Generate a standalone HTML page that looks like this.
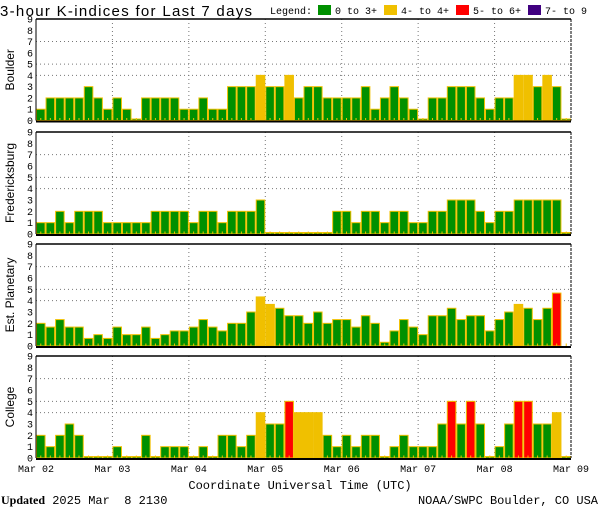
<!DOCTYPE html>
<html><head><meta charset="utf-8"><style>
body{margin:0;background:#fff;width:600px;height:510px;overflow:hidden}
svg{display:block;font-family:"Liberation Mono",monospace}
</style></head><body>
<svg id="chart" width="600" height="510">
<text x="0" y="16" font-size="15" font-family="Liberation Sans, sans-serif" textLength="252">3-hour K-indices for Last 7 days</text>
<g font-size="10">
<text x="270" y="14">Legend:</text>
<rect x="318" y="5" width="13" height="10" fill="#009000"/>
<text x="335" y="14">0 to 3+</text>
<rect x="384" y="5" width="13" height="10" fill="#f0c000"/>
<text x="401" y="14">4- to 4+</text>
<rect x="456" y="5" width="13" height="10" fill="#ff0000"/>
<text x="473" y="14">5- to 6+</text>
<rect x="528" y="5" width="13" height="10" fill="#400080"/>
<text x="545" y="14">7- to 9</text>
</g>
<text x="300" y="489" font-size="12" text-anchor="middle">Coordinate Universal Time (UTC)</text>
<text x="1" y="504" font-size="12" xml:space="preserve"><tspan font-weight="bold" font-family="Liberation Serif, serif">Updated</tspan> 2025 Mar  8 2130</text>
<text x="598" y="504" font-size="12" text-anchor="end">NOAA/SWPC Boulder, CO USA</text>
</svg>
<script>
const dayLabels=["Mar 02","Mar 03","Mar 04","Mar 05","Mar 06","Mar 07","Mar 08","Mar 09"];
const stations=["Boulder","Fredericksburg","Est. Planetary","College"];
const boulder=[1,2,2,2,2,3,2,1,2,1,0,2,2,2,2,1,1,2,1,1,3,3,3,4,3,3,4,2,3,3,2,2,2,2,3,1,2,3,2,1,0,2,2,3,3,3,2,1,2,2,4,4,3,4,3,0];
const fredericksburg=[1,1,2,1,2,2,2,1,1,1,1,1,2,2,2,2,1,2,2,1,2,2,2,3,0,0,0,0,0,0,0,2,2,1,2,2,1,2,2,1,1,2,2,3,3,3,2,1,2,2,3,3,3,3,3,0];
const planetary=[2,1.67,2.33,1.67,1.67,0.67,1,0.67,1.67,1,1,1.67,0.67,1,1.33,1.33,1.67,2.33,1.67,1.33,2,2,3,4.33,3.67,3.33,2.67,2.67,2,3,2,2.33,2.33,1.67,2.67,2,0.33,1.33,2.33,1.67,1,2.67,2.67,3.33,2.33,2.67,2.67,1.33,2.33,3,3.67,3.33,2.33,3.33,4.67,null];
const college=[2,1,2,3,2,0,0,0,1,0,0,2,0,1,1,1,0,1,0,2,2,1,2,4,3,3,5,4,4,4,2,1,2,1,2,2,0,1,2,1,1,1,3,5,3,5,3,0,1,3,5,5,3,3,4,0];
const yTicks=[0,1,2,3,4,5,6,7,8,9];
const gridLevels=[4,5,7];
const series=[boulder,fredericksburg,planetary,college];

const svg=document.getElementById('chart');
const NS='http://www.w3.org/2000/svg';
const X0=36,X1=571,N=56;
const panels=[{top:19,zero:120.5},{top:132,zero:234},{top:244,zero:346},{top:356,zero:458}];
function xScale(i){return X0+i*(X1-X0)/N;}
function mk(tag,attrs,parent){const e=document.createElementNS(NS,tag);for(const k in attrs)e.setAttribute(k,attrs[k]);(parent||svg).appendChild(e);return e;}
function color(v){return v<3.5?'#009000':v<4.5?'#f0c000':v<6.5?'#ff0000':'#400080';}

panels.forEach((p,pi)=>{
  const yScale=v=>p.zero-v*(p.zero-p.top)/9;
  const g=mk('g',{});
  
  
  gridLevels.forEach(l=>{const ln=mk('line',{x1:X0,x2:X1,y1:yScale(l),y2:yScale(l),stroke:'#777','stroke-dasharray':'1,3'},g);
    });
  for(let d=1;d<7;d++){const x=xScale(d*8);const ln=mk('line',{x1:x,x2:x,y1:p.top,y2:p.zero,stroke:'#777','stroke-dasharray':'1,3'},g);
    }
  const data=series[pi];
  data.forEach((v,i)=>{
    if(v===null)return;
    const x=xScale(i),w=(X1-X0)/N;
    const h=v===0?1.5:p.zero-yScale(v);
    const r=mk('rect',{x:x+0.5,y:p.zero-h,width:w-1,height:h,fill:color(v),stroke:'#f0c000','stroke-width':1},g);
    
    
  });
  for(let i=0;i<N;i++){const x=xScale(i)+(X1-X0)/N/2;mk('line',{x1:x,x2:x,y1:p.zero,y2:p.zero-2.5,stroke:'#f0c000'},g);}
  mk('line',{x1:X0,x2:X1,y1:p.top,y2:p.top,stroke:'#000','stroke-width':1.5},g);
  mk('line',{x1:X0,x2:X0,y1:p.top,y2:p.zero,stroke:'#000','stroke-width':1},g);
  mk('line',{x1:X1,x2:X1,y1:p.top,y2:p.zero,stroke:'#000','stroke-dasharray':'3,1'},g);
  const xa=mk('line',{x1:X0,x2:X1,y1:p.zero+1,y2:p.zero+1,stroke:'#000','stroke-width':2},g);
  
  yTicks.forEach(t=>{const tx=mk('text',{x:33,y:yScale(t)+3.5,'font-size':10,'text-anchor':'end'},g);tx.textContent=t;
    });
  const cy=(p.top+p.zero)/2;
  const lab=mk('text',{x:14,y:cy,'font-size':12,'text-anchor':'middle','font-family':'Liberation Sans, sans-serif',transform:`rotate(-90 14 ${cy})`},g);
  lab.textContent=stations[pi];
  
  
});
dayLabels.forEach((d,i)=>{const t=mk('text',{x:xScale(i*8),y:472,'font-size':10,'text-anchor':'middle'});t.textContent=d;
  });
</script>
</body></html>
